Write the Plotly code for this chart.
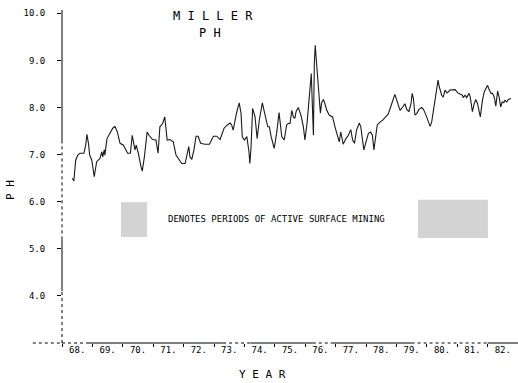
import plotly.graph_objects as go

# ---- data ----
years = [1968.34, 1968.39, 1968.45, 1968.52, 1968.59, 1968.72, 1968.78, 1968.82, 1968.87, 1968.91,
         1968.98, 1969.06, 1969.14, 1969.19, 1969.25, 1969.31, 1969.34, 1969.39, 1969.41, 1969.48,
         1969.58, 1969.67, 1969.74, 1969.82, 1969.91, 1970.02, 1970.16, 1970.25, 1970.31, 1970.36,
         1970.40, 1970.44, 1970.51, 1970.60, 1970.64, 1970.71, 1970.80, 1970.86, 1970.98, 1971.09,
         1971.13, 1971.16, 1971.22, 1971.31, 1971.38, 1971.41, 1971.46, 1971.55, 1971.66, 1971.75,
         1971.86, 1971.94, 1972.05, 1972.12, 1972.17, 1972.21, 1972.27, 1972.34, 1972.41, 1972.48,
         1972.56, 1972.70, 1972.85, 1972.98, 1973.09, 1973.20, 1973.33, 1973.44, 1973.53, 1973.58,
         1973.63, 1973.75, 1973.83, 1973.89, 1973.93, 1974.00, 1974.08, 1974.15, 1974.18, 1974.22,
         1974.27, 1974.35, 1974.42, 1974.49, 1974.59, 1974.68, 1974.77, 1974.82, 1974.88, 1974.98,
         1975.06, 1975.14, 1975.23, 1975.31, 1975.39, 1975.44, 1975.50, 1975.56, 1975.61, 1975.66,
         1975.70, 1975.77, 1975.86, 1975.94, 1975.99, 1976.06, 1976.13, 1976.17, 1976.20, 1976.23,
         1976.27, 1976.30, 1976.33, 1976.37, 1976.41, 1976.45, 1976.50, 1976.54, 1976.60, 1976.65,
         1976.71, 1976.79, 1976.90, 1976.98, 1977.06, 1977.12, 1977.17, 1977.25, 1977.34, 1977.42,
         1977.50, 1977.56, 1977.62, 1977.69, 1977.78, 1977.83, 1977.87, 1977.93, 1978.00, 1978.08,
         1978.15, 1978.21, 1978.26, 1978.32, 1978.37, 1978.46, 1978.55, 1978.63, 1978.73, 1978.81,
         1978.88, 1978.95, 1979.03, 1979.12, 1979.21, 1979.28, 1979.34, 1979.41, 1979.48, 1979.52,
         1979.56, 1979.61, 1979.67, 1979.74, 1979.83, 1979.89, 1979.96, 1980.03, 1980.11, 1980.16,
         1980.25, 1980.33, 1980.37, 1980.41, 1980.49, 1980.54, 1980.60, 1980.66, 1980.71, 1980.76,
         1980.84, 1980.93, 1981.02, 1981.09, 1981.17, 1981.20, 1981.26, 1981.31, 1981.39, 1981.43,
         1981.50, 1981.56, 1981.61, 1981.67, 1981.72, 1981.76, 1981.83, 1981.89, 1981.94, 1982.00,
         1982.05, 1982.11, 1982.16, 1982.22, 1982.27, 1982.30, 1982.33, 1982.38, 1982.43, 1982.48,
         1982.53, 1982.57, 1982.63, 1982.68, 1982.77]

ph = [6.50, 6.44, 6.88, 6.99, 7.03, 7.03, 7.20, 7.43, 7.24, 6.99,
      6.88, 6.53, 6.85, 6.88, 6.92, 7.06, 6.95, 7.10, 6.99, 7.34,
      7.45, 7.56, 7.60, 7.48, 7.24, 7.20, 7.03, 7.03, 7.41, 7.20,
      7.10, 7.20, 7.03, 6.74, 6.65, 6.95, 7.48, 7.41, 7.32, 7.31,
      7.10, 7.03, 7.59, 7.66, 7.80, 7.66, 7.31, 7.32, 7.27, 6.99,
      6.88, 6.81, 6.81, 6.99, 7.17, 6.95, 6.90, 7.10, 7.39, 7.39,
      7.24, 7.22, 7.22, 7.39, 7.39, 7.32, 7.56, 7.63, 7.67, 7.63,
      7.52, 7.91, 8.10, 7.87, 7.38, 7.31, 7.38, 7.06, 6.81, 7.17,
      7.98, 7.80, 7.34, 7.73, 8.10, 7.84, 7.59, 7.59, 7.38, 7.13,
      7.45, 7.89, 7.38, 7.31, 7.63, 7.66, 7.66, 7.94, 7.80, 7.77,
      7.91, 8.00, 7.84, 7.59, 7.31, 7.66, 8.22, 8.58, 8.72, 8.15,
      7.41, 8.93, 9.32, 8.97, 8.65, 8.37, 7.88, 8.10, 8.17, 8.08,
      7.94, 7.84, 7.80, 7.59, 7.38, 7.27, 7.48, 7.22, 7.34, 7.41,
      7.53, 7.31, 7.24, 7.52, 7.67, 7.59, 7.38, 7.10, 7.27, 7.45,
      7.48, 7.41, 7.10, 7.38, 7.63, 7.69, 7.73, 7.79, 7.86, 8.01,
      8.15, 8.28, 8.12, 7.94, 8.01, 8.08, 7.96, 7.91, 8.08, 8.30,
      8.19, 7.84, 7.87, 7.96, 8.00, 7.96, 7.86, 7.73, 7.60, 7.69,
      8.05, 8.44, 8.58, 8.44, 8.26, 8.22, 8.37, 8.31, 8.33, 8.37,
      8.38, 8.38, 8.31, 8.28, 8.26, 8.21, 8.26, 8.21, 8.30, 8.22,
      7.91, 8.08, 8.17, 8.08, 7.94, 7.80, 8.15, 8.33, 8.40, 8.47,
      8.38, 8.30, 8.30, 8.22, 8.03, 8.21, 8.35, 8.22, 8.01, 8.12,
      8.10, 8.15, 8.12, 8.17, 8.19]

year_ticks = list(range(1968, 1983))
year_labels = [f"{y % 100}." for y in year_ticks]
ph_ticks = [4, 5, 6, 7, 8, 9, 10]
ph_labels = ["4.0", "5.0", "6.0", "7.0", "8.0", "9.0", "10.0"]
mining_periods = [(1968.0, 1968.85), (1973.3, 1974.2), (1976.25, 1976.9), (1979.5, 1982.0)]

# ---- styling / layout constants ----
FONT = "DejaVu Sans Mono"
X_RANGE = [1968, 1983]
Y_RANGE = [3.0, 10.07]
LEFT_BOX = dict(x=[1969.94, 1970.80], y=[5.25, 5.99])
RIGHT_BOX = dict(x=[1979.71, 1982.01], y=[5.23, 6.04])
ML, MR, MT, MB, W, H = 62, 0, 10, 40, 518, 383

fig = go.Figure()

fig.add_trace(go.Scatter(x=years, y=ph, mode="lines",
                         line=dict(color="#1a1a1a", width=1.1),
                         showlegend=False, hoverinfo="skip"))

# stippled legend key boxes
for box in (LEFT_BOX, RIGHT_BOX):
    x0, x1 = box["x"]
    y0, y1 = box["y"]
    fig.add_trace(go.Scatter(x=[x0, x1, x1, x0, x0], y=[y0, y0, y1, y1, y0],
                             mode="lines", fill="toself",
                             line=dict(width=0, color="rgba(0,0,0,0)"),
                             fillcolor="white",
                             fillpattern=dict(shape=".", fgcolor="#333", bgcolor="white",
                                              size=2, solidity=0.5),
                             showlegend=False, hoverinfo="skip"))

# x axis line: solid outside mining periods, dotted inside
edges = [X_RANGE[0]]
for a, b in mining_periods:
    edges += [a, b]
edges.append(X_RANGE[1])
for i in range(len(edges) - 1):
    a, b = edges[i], edges[i + 1]
    if b <= a:
        continue
    dotted = (i % 2 == 1)
    fig.add_shape(type="line", xref="x", yref="paper", x0=a, x1=b, y0=0, y1=0,
                  line=dict(color="black", width=1, dash="dot" if dotted else "solid"))
# left stub of x axis beyond the y axis
fig.add_shape(type="line", xref="paper", yref="paper", x0=-0.064, x1=0, y0=0, y1=0,
              line=dict(color="black", width=1, dash="dot"))

# y axis line: partly dotted as in the plotter output
y_segments = [(7.3, 10.07, "solid"), (5.2, 7.3, "dot"), (4.1, 5.2, "solid"), (3.0, 4.1, "dot")]
for a, b, d in y_segments:
    fig.add_shape(type="line", xref="paper", yref="y", x0=0, x1=0, y0=a, y1=b,
                  line=dict(color="black", width=1, dash=d))

# text placed by pixel centre (converted to paper coordinates)
texts = [
    ("M I L L E R", 213, 16, 12, 0),
    ("P H", 210, 33, 12, 0),
    ("DENOTES PERIODS OF ACTIVE SURFACE MINING", 276, 219, 9, 0),
    ("Y E A R", 262, 374, 11, 0),
    ("P H", 10, 190, 11, -90),
]
pw, phh = W - ML - MR, H - MT - MB
annotations = []
for t, px, py, size, ang in texts:
    annotations.append(dict(text=t, x=(px - ML) / pw, y=(H - MB - py) / phh,
                            xref="paper", yref="paper", xanchor="center", yanchor="middle",
                            showarrow=False, textangle=ang,
                            font=dict(family=FONT, size=size, color="black")))

fig.update_layout(
    width=W, height=H,
    margin=dict(l=ML, r=MR, t=MT, b=MB),
    paper_bgcolor="white", plot_bgcolor="white",
    showlegend=False,
    font=dict(family=FONT, color="black"),
    xaxis=dict(range=X_RANGE, showgrid=False, zeroline=False, showline=False,
               tickvals=[y + 0.5 for y in year_ticks], ticktext=year_labels,
               ticks="", tickfont=dict(family=FONT, size=9, color="black"),
               minor=dict(tickvals=year_ticks + [1983], ticks="outside", ticklen=3,
                          tickcolor="black", tickwidth=1)),
    yaxis=dict(range=Y_RANGE, showgrid=False, zeroline=False, showline=False,
               tickvals=ph_ticks, ticktext=ph_labels, ticks="outside", ticklen=4,
               tickcolor="black", ticklabelstandoff=10,
               tickfont=dict(family=FONT, size=9, color="black")),
    annotations=annotations,
)

fig.write_html("out.html")
